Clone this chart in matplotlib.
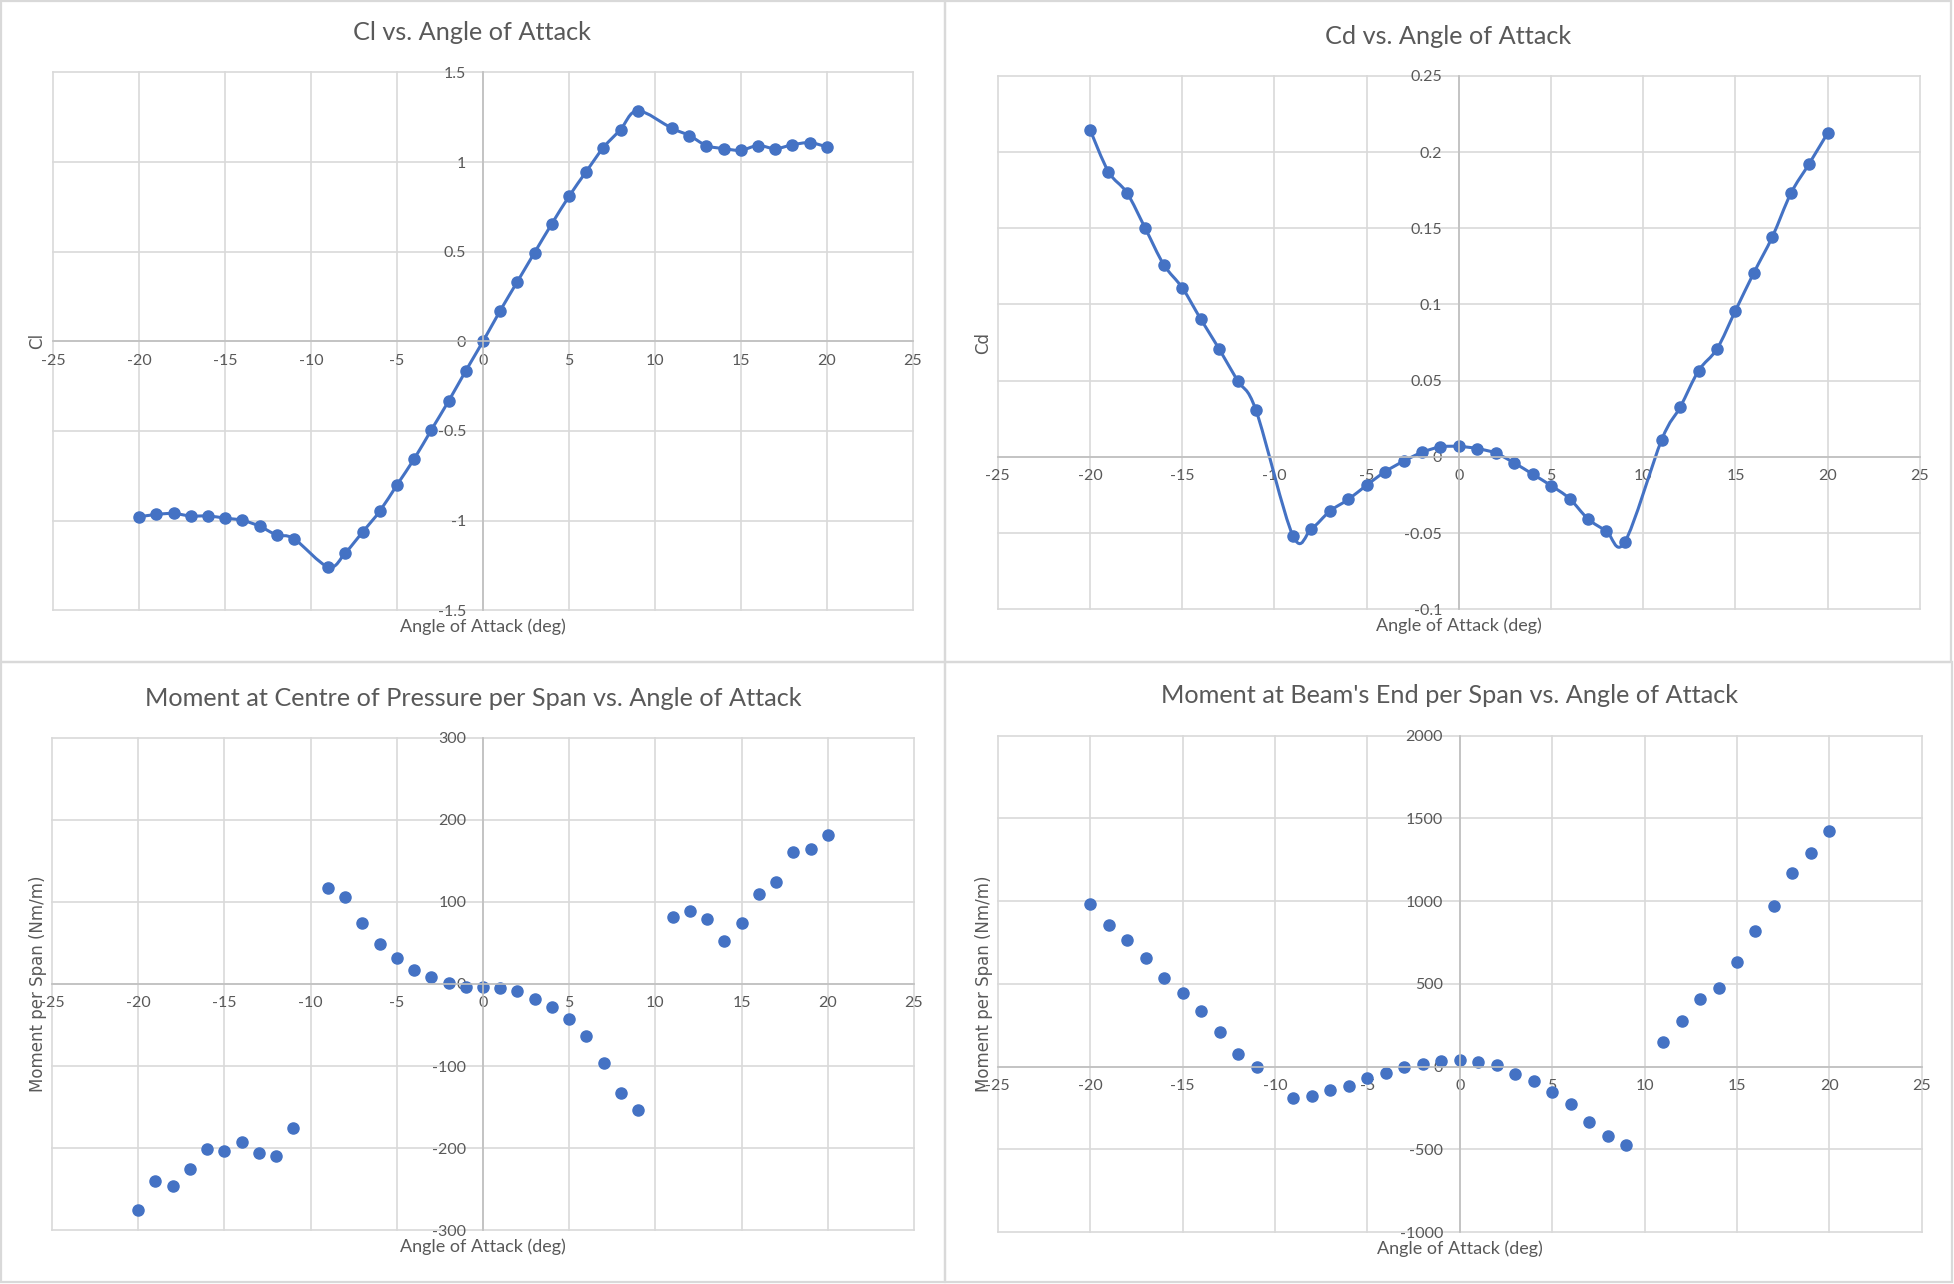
import matplotlib
matplotlib.use('Agg')
import matplotlib.pyplot as plt
import numpy as np
from matplotlib.path import Path
from matplotlib.patches import PathPatch, Rectangle
from matplotlib.ticker import FuncFormatter

W, H = 1954, 1284

# Angles of attack (deg); the -10 and 10 deg runs are missing
aoa = [-20, -19, -18, -17, -16, -15, -14, -13, -12, -11,
       -9, -8, -7, -6, -5, -4, -3, -2, -1, 0,
       1, 2, 3, 4, 5, 6, 7, 8, 9,
       11, 12, 13, 14, 15, 16, 17, 18, 19, 20]

cl = [-0.979, -0.965, -0.960, -0.974, -0.974, -0.986, -0.998, -1.031, -1.080, -1.101,
      -1.258, -1.178, -1.063, -0.946, -0.800, -0.655, -0.493, -0.333, -0.164, 0.0,
      0.171, 0.333, 0.495, 0.655, 0.808, 0.946, 1.080, 1.181, 1.286,
      1.188, 1.148, 1.092, 1.075, 1.066, 1.092, 1.075, 1.096, 1.108, 1.085]

cd = [0.2147, 0.1871, 0.1733, 0.1499, 0.1261, 0.1110, 0.0905, 0.0709, 0.0500, 0.0306,
      -0.0516, -0.0472, -0.0356, -0.0279, -0.0185, -0.0097, -0.0028, 0.0030, 0.0066, 0.0069,
      0.0055, 0.0025, -0.0039, -0.0113, -0.0188, -0.0273, -0.0406, -0.0486, -0.0558,
      0.0113, 0.0326, 0.0566, 0.0709, 0.0960, 0.1209, 0.1444, 0.1728, 0.1924, 0.2125]

# Moment at centre of pressure per span (Nm/m)
m_cp = [-274.8, -240.4, -245.8, -225.9, -201.6, -203.1, -192.0, -205.5, -209.9, -175.0,
        116.3, 106.2, 74.6, 49.0, 32.0, 17.5, 7.8, 1.5, -3.4, -3.4,
        -4.4, -8.2, -17.9, -27.6, -42.7, -64.0, -96.0, -133.3, -153.2,
        81.0, 88.2, 79.5, 52.4, 74.6, 110.0, 124.6, 160.9, 164.8, 180.8]

# Moment at beam's end per span (Nm/m)
m_end = [985.6, 853.4, 766.8, 653.8, 538.5, 447.1, 338.9, 211.5, 79.3, 0.0,
         -189.9, -175.5, -139.4, -115.4, -69.7, -36.1, -4.8, 16.8, 33.7, 38.5,
         28.8, 7.2, -43.3, -88.9, -151.4, -223.6, -331.7, -415.9, -476.0,
         151.4, 278.8, 411.1, 473.6, 634.6, 817.3, 971.2, 1170.7, 1293.3, 1423.1]

BLUE = '#4472C4'
TXT = '#595959'
GRID = '#D9D9D9'
FONT = 'Lato'
TITLE_SIZE = 18.2
XLAB_SIZE = 13
MS = 8


def smooth_path(x, y):
    """Excel-like smoothed line: Catmull-Rom segments as cubic Beziers"""
    x = np.asarray(x, float)
    y = np.asarray(y, float)
    n = len(x)
    verts = [(x[0], y[0])]
    codes = [Path.MOVETO]
    for i in range(n - 1):
        i0 = max(i - 1, 0)
        i3 = min(i + 2, n - 1)
        c1 = (x[i] + (x[i + 1] - x[i0]) / 6, y[i] + (y[i + 1] - y[i0]) / 6)
        c2 = (x[i + 1] - (x[i3] - x[i]) / 6, y[i + 1] - (y[i3] - y[i]) / 6)
        verts += [c1, c2, (x[i + 1], y[i + 1])]
        codes += [Path.CURVE4] * 3
    return Path(verts, codes)


def fmt(v, pos):
    v = round(v, 6)
    if abs(v) < 1e-9:
        v = 0
    return '{:g}'.format(v)


def px_axes(fig, left, top, right, bottom):
    return fig.add_axes([left / W, 1 - bottom / H, (right - left) / W, (bottom - top) / H])


def setup(ax, ylim, ystep):
    ax.set_xlim(-25, 25)
    ax.set_ylim(ylim)
    ax.set_xticks(np.arange(-25, 26, 5))
    ax.set_yticks(np.arange(ylim[0], ylim[1] + ystep / 2, ystep))
    ax.xaxis.set_major_formatter(FuncFormatter(fmt))
    ax.yaxis.set_major_formatter(FuncFormatter(fmt))
    ax.spines['left'].set_position(('data', 0))
    ax.spines['bottom'].set_position(('data', 0))
    ax.spines['top'].set_visible(False)
    ax.spines['right'].set_visible(False)
    for s in ['left', 'bottom']:
        ax.spines[s].set_color('#BFBFBF')
        ax.spines[s].set_linewidth(1.2)
    ax.grid(True, color=GRID, lw=1.2, clip_on=False)
    ax.set_axisbelow(True)
    ax.tick_params(axis='both', length=0, labelsize=11.5, labelcolor=TXT)
    ax.tick_params(axis='x', pad=9)
    ax.tick_params(axis='y', pad=12)
    for lab in ax.get_xticklabels() + ax.get_yticklabels():
        lab.set_fontfamily(FONT)
    ax.patch.set_alpha(0)


def text_px(fig, x, y, s, **kw):
    fig.text(x / W, 1 - y / H, s, ha='center', va='center', **kw)


fig = plt.figure(figsize=(W / 100, H / 100), dpi=100)

# chart area borders
for (l, t, r, b) in [(1, 1, 945, 662), (945, 1, 1951, 662),
                     (1, 662, 945, 1282), (945, 662, 1952, 1282)]:
    fig.add_artist(Rectangle((l / W, 1 - b / H), (r - l) / W, (b - t) / H,
                             transform=fig.transFigure, fill=False,
                             ec=GRID, lw=1.6))

# Cl
ax1 = px_axes(fig, 53.3, 72.4, 912.7, 610.3)
setup(ax1, (-1.5, 1.5), 0.5)
ax1.add_patch(PathPatch(smooth_path(aoa, cl), fill=False, ec=BLUE, lw=2.2))
ax1.plot(aoa, cl, 'o', color=BLUE, ms=MS)
text_px(fig, 472, 33, 'Cl vs. Angle of Attack', fontsize=TITLE_SIZE, color=TXT, family=FONT)
text_px(fig, 483, 627, 'Angle of Attack (deg)', fontsize=XLAB_SIZE, color=TXT, family=FONT)
text_px(fig, 37.6, 341, 'Cl', fontsize=12, color=TXT, rotation=90)

# Cd
ax2 = px_axes(fig, 997.8, 75.8, 1919.9, 609.4)
setup(ax2, (-0.1, 0.25), 0.05)
ax2.add_patch(PathPatch(smooth_path(aoa, cd), fill=False, ec=BLUE, lw=2.2))
ax2.plot(aoa, cd, 'o', color=BLUE, ms=MS)
text_px(fig, 1448, 36, 'Cd vs. Angle of Attack', fontsize=TITLE_SIZE, color=TXT, family=FONT)
text_px(fig, 1459, 626, 'Angle of Attack (deg)', fontsize=XLAB_SIZE, color=TXT, family=FONT)
text_px(fig, 983.6, 343, 'Cd', fontsize=12, color=TXT, rotation=90)

# Moment at centre of pressure
ax3 = px_axes(fig, 52, 737.6, 914, 1230.2)
setup(ax3, (-300, 300), 100)
ax3.plot(aoa, m_cp, 'o', color=BLUE, ms=MS)
text_px(fig, 473, 698, 'Moment at Centre of Pressure per Span vs. Angle of Attack',
        fontsize=TITLE_SIZE, color=TXT, family=FONT)
text_px(fig, 483, 1247, 'Angle of Attack (deg)', fontsize=XLAB_SIZE, color=TXT, family=FONT)
text_px(fig, 37.6, 984, 'Moment per Span (Nm/m)', fontsize=12, color=TXT, rotation=90)

# Moment at beam's end
ax4 = px_axes(fig, 997.8, 735.6, 1921.8, 1232.2)
setup(ax4, (-1000, 2000), 500)
ax4.plot(aoa, m_end, 'o', color=BLUE, ms=MS)
text_px(fig, 1450, 696, "Moment at Beam's End per Span vs. Angle of Attack",
        fontsize=TITLE_SIZE, color=TXT, family=FONT)
text_px(fig, 1460, 1249, 'Angle of Attack (deg)', fontsize=XLAB_SIZE, color=TXT, family=FONT)
text_px(fig, 983.6, 984, 'Moment per Span (Nm/m)', fontsize=12, color=TXT, rotation=90)

plt.savefig('out.png', dpi=100)
